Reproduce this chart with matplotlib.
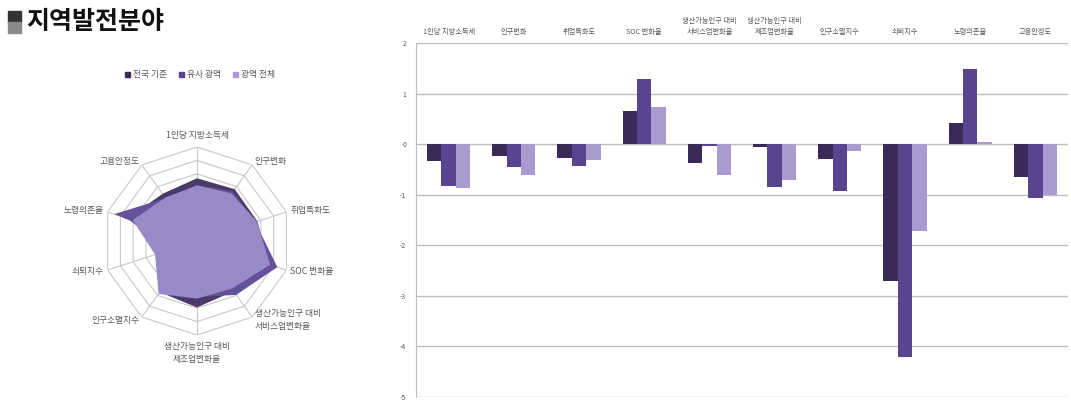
import numpy as np
import matplotlib
matplotlib.use("Agg")
import matplotlib.pyplot as plt
from matplotlib.patches import Rectangle, Patch
from matplotlib.transforms import blended_transform_factory

plt.rcParams['font.family'] = ['Noto Sans CJK KR', 'DejaVu Sans']
plt.rcParams['axes.unicode_minus'] = False

# ---------------- data ----------------
categories = ['1인당 지방소득세', '인구변화', '취업특화도', 'SOC 변화율',
              '생산가능인구 대비\n서비스업변화율', '생산가능인구 대비\n제조업변화율',
              '인구소멸지수', '쇠퇴지수', '노령의존율', '고용안정도']
series_names = ['전국 기준', '유사 광역', '광역 전체']
national = [-0.33, -0.23, -0.27, 0.65, -0.38, -0.05, -0.29, -2.70, 0.42, -0.65]
similar = [-0.83, -0.46, -0.44, 1.29, -0.04, -0.84, -0.93, -4.20, 1.48, -1.06]
all_regions = [-0.86, -0.62, -0.31, 0.73, -0.61, -0.71, -0.13, -1.72, 0.04, -1.00]
y_ticks = [2, 1, 0, -1, -2, -3, -4, -5]

bar_colors = ['#3b2a58', '#5a438f', '#a99bd0']
radar_colors = ['#4a3a6a', '#65519a', '#978ac6']
text_gray = '#595959'

W, H = 1071, 401
fig = plt.figure(figsize=(W / 100, H / 100), dpi=100)

# ---------------- title ----------------
fig.patches.append(Rectangle((8 / W, 1 - 22 / H), 13 / W, 11 / H, transform=fig.transFigure,
                             color='#333333', zorder=5))
fig.patches.append(Rectangle((8 / W, 1 - 33 / H), 13 / W, 11 / H, transform=fig.transFigure,
                             color='#8a8a8a', zorder=5))
fig.text(26 / W, 1 - 22 / H, '지역발전분야', fontsize=18, fontweight='bold',
         color='#111111', ha='left', va='center')

# ---------------- bar chart ----------------
axb = fig.add_axes([416 / W, 1 - 397 / H, 652 / W, 354 / H])
n = len(categories)
x = np.arange(n)
bw = 0.22
for k, vals in enumerate([national, similar, all_regions]):
    axb.bar(x + (k - 1) * bw, vals, width=bw, color=bar_colors[k], zorder=3)
axb.set_xlim(-0.5, n - 0.5)
axb.set_ylim(min(y_ticks), max(y_ticks))
axb.set_yticks(y_ticks)
axb.set_yticklabels([str(t) for t in y_ticks], fontsize=5, color=text_gray)
axb.tick_params(axis='y', length=0, pad=7)
axb.set_xticks([])
for t in y_ticks:
    axb.axhline(t, color='#bdbdbd', lw=1.0, zorder=1)
for s in ['top', 'right', 'bottom']:
    axb.spines[s].set_visible(False)
axb.spines['left'].set_color('#bdbdbd')
trans = blended_transform_factory(axb.transData, axb.transAxes)
for i, c in enumerate(categories):
    axb.text(i, 1.02, c, transform=trans, ha='center', va='bottom', fontsize=5.2,
             color=text_gray, linespacing=1.5)

# ---------------- radar chart ----------------
R = 94
cx, cy = 197, 241
axr = fig.add_axes([(cx - R) / W, 1 - (cy + R) / H, 2 * R / W, 2 * R / H], projection='polar')
axr.set_theta_zero_location('N')
axr.set_theta_direction(-1)
rmin, rmax = min(y_ticks), max(y_ticks)
axr.set_ylim(rmin, rmax)
angles = np.arange(n) * 2 * np.pi / n
ang_closed = np.append(angles, angles[0])
axr.grid(False)
axr.set_xticks([])
axr.set_yticks([])
axr.spines['polar'].set_visible(False)
axr.patch.set_alpha(0)
for lvl in range(rmin + 1, rmax + 1):
    axr.plot(ang_closed, [lvl] * (n + 1), color='#c8c8c8', lw=0.8, zorder=1)
for a in angles:
    axr.plot([a, a], [rmin, rmax], color='#c8c8c8', lw=0.8, zorder=1)
for k, vals in enumerate([national, similar, all_regions]):
    v = np.append(vals, vals[0])
    axr.fill(ang_closed, v, color=radar_colors[k], zorder=2 + k, lw=0)

for a, c in zip(angles, categories):
    s, co = np.sin(a), np.cos(a)
    ha = 'left' if s > 0.1 else ('right' if s < -0.1 else 'center')
    va = 'bottom' if co > 0.9 else ('top' if co < -0.9 else 'center')
    r = rmax + 0.3 if abs(s) > 0.1 else rmax + 0.5
    axr.text(a, r, c, ha=ha, va=va, fontsize=6.3, color=text_gray, linespacing=1.6)

handles = [Patch(color=bar_colors[k], label=series_names[k]) for k in range(3)]
fig.legend(handles=handles, loc='center', bbox_to_anchor=(200 / W, 1 - 75 / H), ncol=3,
           frameon=False, fontsize=6.3, handlelength=0.6, handleheight=0.6,
           handletextpad=0.3, columnspacing=1.4, labelcolor=text_gray)

fig.savefig('out.png', dpi=100, facecolor='white')
